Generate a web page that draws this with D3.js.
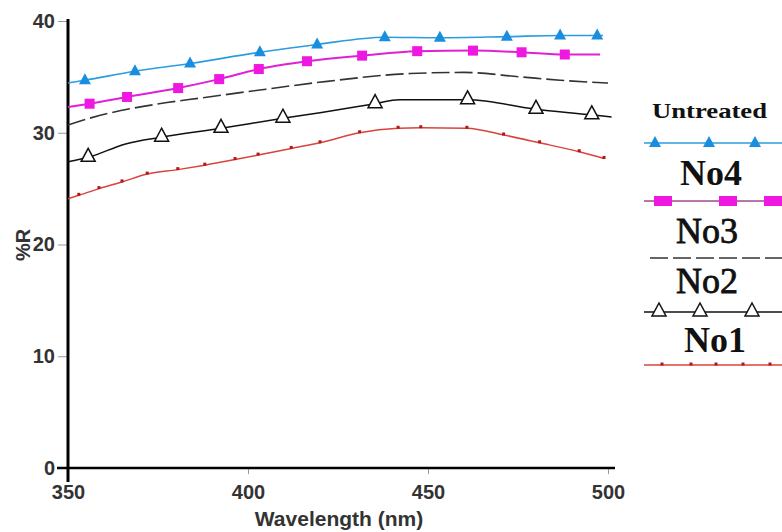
<!DOCTYPE html>
<html>
<head>
<meta charset="utf-8">
<script src="https://cdn.jsdelivr.net/npm/d3@7"></script>
<style>
  body { margin: 0; background: #fff; }
  svg { display: block; }
  .tick text { font-family: Arial, "Liberation Sans", sans-serif; font-weight: bold; font-size: 20px; fill: #333; }
  .tick line { stroke: #999; stroke-width: 1; }
</style>
</head>
<body>
<div id="canvas"><svg width="782" height="532"></svg></div>
<script>
// wavelength (nm) and %R, one pair of arrays per curve
var untreatedWl = [350, 354.7, 368.6, 383.9, 403.3, 419.2, 438, 453.3, 471.9, 486.7, 497, 498.6];
var untreatedR  = [34.45, 34.7, 35.5, 36.2, 37.2, 37.9, 38.55, 38.5, 38.6, 38.7, 38.7, 38.7];
var untreatedMarks = [354.7, 368.6, 383.9, 403.3, 419.2, 438, 453.3, 471.9, 486.7, 497];

var no4Wl = [350, 356, 366.4, 380.6, 392, 403, 410, 416.4, 431.7, 447, 462.5, 476, 488, 497.8];
var no4R  = [32.3, 32.6, 33.2, 34.0, 34.8, 35.7, 36.1, 36.4, 36.9, 37.3, 37.35, 37.2, 37.0, 37.0];
var no4Marks = [356, 366.4, 380.6, 392, 403, 416.4, 431.7, 447, 462.5, 476, 488];

var no3Wl = [350, 356, 377.5, 386.7, 405, 422, 445, 460, 475.6, 486.7, 500];
var no3R  = [30.7, 31.3, 32.7, 33.1, 33.9, 34.6, 35.3, 35.4, 35.0, 34.7, 34.45];

var no2Wl = [350, 355.6, 366, 376, 392.5, 409.7, 420, 435.3, 442, 461, 480, 495.5, 501];
var no2R  = [27.4, 27.8, 29.0, 29.6, 30.4, 31.3, 31.8, 32.6, 32.95, 32.95, 32.1, 31.6, 31.4];
var no2Marks = [355.6, 376, 392.5, 409.7, 435.3, 461, 480, 495.5];

var no1Wl = [350, 353, 358.6, 365, 372, 380.5, 388, 396.4, 402.8, 412, 420, 431, 441.7, 448, 460.8, 471, 481, 492, 498.9];
var no1R  = [24.1, 24.4, 25.0, 25.6, 26.3, 26.7, 27.1, 27.6, 28.0, 28.6, 29.1, 30.0, 30.4, 30.45, 30.4, 29.8, 29.1, 28.3, 27.7];
var no1Marks = [353, 358.6, 365, 372, 380.5, 388, 396.4, 402.8, 412, 420, 431, 441.7, 448, 460.8, 471, 481, 492, 498.9];

var xTicks = [350, 400, 450, 500];
var yTicks = [0, 10, 20, 30, 40];
var legendNames = ["Untreated", "No4", "No3", "No2", "No1"];

var svg = d3.select("#canvas svg");

var x = d3.scaleLinear().domain([350, 500]).range([68, 608]);
var y = d3.scaleLinear().domain([0, 40]).range([468, 21]);

function pts(wl, r) {
    return wl.map(function (w, i) { return {w: w, r: r[i]}; });
}
function markPts(marks, wl, r) {
    return marks.map(function (m) { return {w: m, r: r[wl.indexOf(m)]}; });
}

var series = [
    {name: "Untreated", data: pts(untreatedWl, untreatedR), marks: markPts(untreatedMarks, untreatedWl, untreatedR),
     color: "#2a9de0", width: 1.6, dash: null, marker: "filledTri", markColor: "#1a8ede"},
    {name: "No4", data: pts(no4Wl, no4R), marks: markPts(no4Marks, no4Wl, no4R),
     color: "#e020d6", width: 2, dash: null, marker: "square", markColor: "#ee18e0"},
    {name: "No3", data: pts(no3Wl, no3R), marks: [],
     color: "#333", width: 1.6, dash: "18,5", marker: null},
    {name: "No2", data: pts(no2Wl, no2R), marks: markPts(no2Marks, no2Wl, no2R),
     color: "#111", width: 1.5, dash: null, marker: "openTri", markColor: "#111"},
    {name: "No1", data: pts(no1Wl, no1R), marks: markPts(no1Marks, no1Wl, no1R),
     color: "#d8443c", width: 1.5, dash: null, marker: "dot", markColor: "#b01818"}
];

// axes
var yAxis = svg.append("g")
    .attr("transform", "translate(68,0)")
    .call(d3.axisLeft(y).tickValues(yTicks).tickSize(10).tickPadding(3));
yAxis.select(".domain").remove();

var xAxis = svg.append("g")
    .attr("transform", "translate(0,468)")
    .call(d3.axisBottom(x).tickValues(xTicks).tickSize(6).tickPadding(11));
xAxis.select(".domain").remove();

svg.append("line").attr("x1", 57).attr("x2", 615).attr("y1", 468).attr("y2", 468)
    .attr("stroke", "#000").attr("stroke-width", 2.5);
svg.append("line").attr("x1", 68).attr("x2", 68).attr("y1", 19).attr("y2", 482)
    .attr("stroke", "#000").attr("stroke-width", 3);

svg.append("text")
    .attr("x", 339).attr("y", 526)
    .attr("text-anchor", "middle")
    .style("font-family", "Arial, 'Liberation Sans', sans-serif")
    .style("font-weight", "bold").style("font-size", "21px").style("fill", "#333")
    .text("Wavelength (nm)");

svg.append("text")
    .attr("transform", "translate(30,245) rotate(-90)")
    .attr("text-anchor", "middle")
    .style("font-family", "Arial, 'Liberation Sans', sans-serif")
    .style("font-weight", "bold").style("font-size", "20px").style("fill", "#333")
    .text("%R");

var line = d3.line()
    .x(function (d) { return x(d.w); })
    .y(function (d) { return y(d.r); })
    .curve(d3.curveMonotoneX);

function drawMarker(g, type, color) {
    if (type === "filledTri") {
        g.append("path").attr("d", "M0,-7 L6,4 L-6,4 Z").attr("fill", color);
    } else if (type === "openTri") {
        g.append("path").attr("d", "M0,-9 L7,4 L-7,4 Z")
            .attr("fill", "#fff").attr("stroke", color).attr("stroke-width", 1.5);
    } else if (type === "square") {
        g.append("rect").attr("x", -5).attr("y", -5).attr("width", 10).attr("height", 10).attr("fill", color);
    } else if (type === "dot") {
        g.append("rect").attr("x", -1.5).attr("y", -2.5).attr("width", 3).attr("height", 3).attr("fill", color);
    }
}

series.forEach(function (s) {
    svg.append("path")
        .datum(s.data)
        .attr("fill", "none")
        .attr("stroke", s.color)
        .attr("stroke-width", s.width)
        .attr("stroke-dasharray", s.dash)
        .attr("d", line);

    svg.selectAll(null)
        .data(s.marks)
        .enter()
        .append("g")
        .attr("transform", function (d) { return "translate(" + x(d.w) + "," + y(d.r) + ")"; })
        .each(function () { drawMarker(d3.select(this), s.marker, s.markColor); });
});

// legend on the right
var legendY = [118, 185, 243, 293, 352];
var legendLineY = [143, 201, 258, 312, 365];
var legendX = [652, 680, 676, 676, 684];
var legendMarkX = [[655, 709, 755], [663, 728, 773], [], [659, 700, 752], [662, 691, 716, 743, 770]];

series.forEach(function (s, i) {
    var t = svg.append("text")
        .attr("x", legendX[i]).attr("y", legendY[i])
        .style("font-family", "'Liberation Serif', 'Times New Roman', serif")
        .style("fill", "#111")
        .text(legendNames[i]);
    if (i === 0) {
        t.style("font-size", "22px").style("font-weight", "bold")
            .attr("textLength", 115).attr("lengthAdjust", "spacingAndGlyphs");
    } else if (i === 1 || i === 4) {
        t.style("font-size", "36px").style("font-weight", "bold");
    } else {
        t.style("font-size", "36px").style("stroke", "#111").style("stroke-width", 0.8);
    }
    svg.append("line")
        .attr("x1", i === 2 ? 650 : 644).attr("x2", 782)
        .attr("y1", legendLineY[i]).attr("y2", legendLineY[i])
        .attr("stroke", i === 1 ? "#a04890" : s.color)
        .attr("stroke-width", s.width === 2 ? 1.5 : s.width)
        .attr("stroke-dasharray", s.dash);
    legendMarkX[i].forEach(function (mx) {
        var g = svg.append("g").attr("transform", "translate(" + mx + "," + legendLineY[i] + ")");
        if (s.marker === "square") {
            g.append("rect").attr("x", -9).attr("y", -5).attr("width", 18).attr("height", 10).attr("fill", s.markColor);
        } else {
            drawMarker(g, s.marker, s.markColor);
        }
    });
});
</script>
</body>
</html>
